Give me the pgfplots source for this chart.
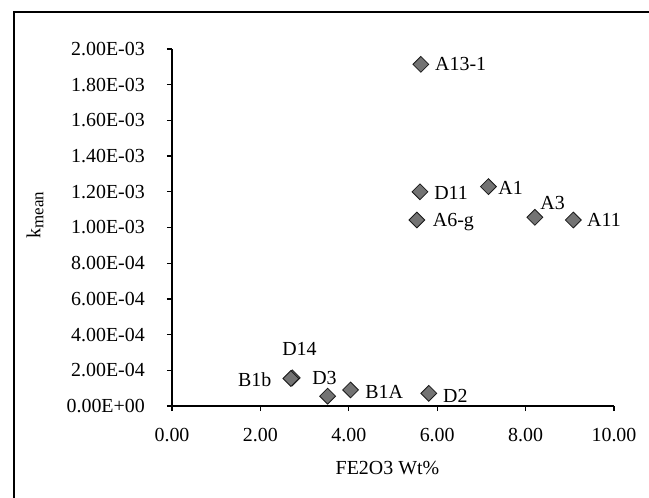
\documentclass[border=0pt]{standalone}
\usepackage{pgfplots}
\pgfplotsset{compat=1.18}
\usepackage{fontspec}
\setmainfont{Liberation Serif}

\begin{document}
\begin{tikzpicture}[font=\fontsize{20}{24}\selectfont]
\useasboundingbox (-172bp,-92bp) rectangle (477bp,406bp);
% outer frame of the chart area
\draw[line width=1.6bp] (-158bp,-100bp) -- (-158bp,394bp) -- (490bp,394bp);
\begin{axis}[
  at={(0,0)}, anchor=south west,
  scale only axis,
  width=442bp, height=357bp,
  xmin=0, xmax=10, ymin=0, ymax=0.002,
  axis x line=bottom, axis y line=left,
  axis line style={line width=1.2bp, -},
  tick style={line width=1.2bp, black},
  tick align=outside,
  major tick length=5bp,
  scaled y ticks=false, scaled x ticks=false,
  xtick={0,2,4,6,8,10},
  xticklabels={0.00,2.00,4.00,6.00,8.00,10.00},
  ytick={0,0.0002,0.0004,0.0006,0.0008,0.001,0.0012,0.0014,0.0016,0.0018,0.002},
  yticklabels={0.00E+00,2.00E-04,4.00E-04,6.00E-04,8.00E-04,1.00E-03,1.20E-03,1.40E-03,1.60E-03,1.80E-03,2.00E-03},
  tick label style={font=\fontsize{20}{24}\selectfont},
  xticklabel style={anchor=north, inner sep=0pt, text depth=0pt, yshift=-17bp},
  yticklabel style={anchor=east, inner sep=0pt},
  yticklabel shift=22bp,
  xlabel={FE2O3 Wt\%},
  label style={font=\fontsize{20}{24}\selectfont},
  xlabel style={at={(axis description cs:0.4875,-0.174)}, anchor=center},
  clip=false,
]
\addplot[only marks, mark=square*, mark size=5.6bp,
  mark options={rotate=45, fill=black!55, draw=black!90, line width=0.8bp}]
  coordinates {
  (5.63,0.001914) % A13-1
  (5.61,0.001200) % D11
  (7.16,0.001229) % A1
  (5.54,0.001042) % A6-g
  (8.21,0.001057) % A3
  (9.08,0.001042) % A11
  (2.72,0.000158) % D14
  (2.69,0.000154) % B1b
  (3.52,0.000055) % D3
  (4.04,0.000090) % B1A
  (5.81,0.000071) % D2
  };
% y axis title
\node[rotate=90, anchor=center, inner sep=0pt]
  at (rel axis cs:-0.31,0.535) {k\textsubscript{\fontsize{17}{20}\selectfont mean}};
\begin{scope}[every node/.style={anchor=west, inner sep=0pt, text depth=0pt}]
\node at (axis cs:5.95,0.001916) {A13-1};
\node at (axis cs:5.93,0.001193) {D11};
\node at (axis cs:7.38,0.001221) {A1};
\node at (axis cs:8.33,0.001137) {A3};
\node at (axis cs:5.90,0.001042) {A6-g};
\node at (axis cs:9.39,0.001042) {A11};
\node at (axis cs:2.49,0.000319) {D14};
\node at (axis cs:1.49,0.000146) {B1b};
\node at (axis cs:3.17,0.000157) {D3};
\node at (axis cs:4.37,0.000078) {B1A};
\node at (axis cs:6.13,0.000056) {D2};
\end{scope}
\end{axis}
\end{tikzpicture}
\end{document}
